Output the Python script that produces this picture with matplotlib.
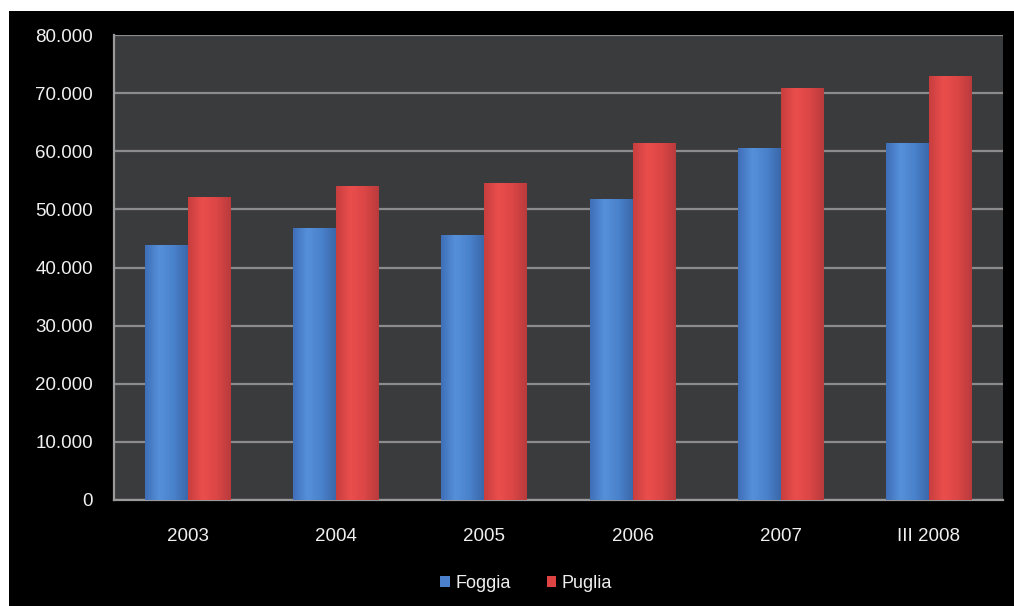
import numpy as np
import matplotlib
matplotlib.use('Agg')
from matplotlib import pyplot as plt
from matplotlib.patches import Rectangle
from matplotlib.colors import LinearSegmentedColormap
from matplotlib.ticker import FuncFormatter

# valori per anno
anni = ['2003', '2004', '2005', '2006', '2007', 'III 2008']
foggia = [43800, 46800, 45600, 51700, 60600, 61500]
puglia = [52200, 54100, 54600, 61400, 70800, 73000]

plt.rcParams['font.family'] = ['Liberation Sans', 'DejaVu Sans']

fig = plt.figure(figsize=(10.14, 6.06), dpi=100, facecolor='white')
# sfondo nero con bordo bianco in alto e a sinistra
fig.patches.append(Rectangle((9/1014, 0), 1 - 9/1014, 1 - 11/606,
                             transform=fig.transFigure, facecolor='black',
                             edgecolor='none', zorder=-1))

ax = fig.add_axes([114/1014, 106/606, 889/1014, 465/606])
ax.set_facecolor('#3a3b3d')

x = np.arange(len(anni))
w = 0.29
b1 = ax.bar(x - w/2, foggia, w, color='#4a80cc', label='Foggia', zorder=3)
b2 = ax.bar(x + w/2, puglia, w, color='#de4444', label='Puglia', zorder=3)

# sfumatura orizzontale sulle barre (effetto cilindro)
def sfuma(bars, colori):
    cmap = LinearSegmentedColormap.from_list('g', colori)
    grad = np.linspace(0, 1, 64).reshape(1, -1)
    for b in bars:
        x0, y0 = b.get_x(), b.get_y()
        im = ax.imshow(grad, cmap=cmap, aspect='auto', zorder=3.5,
                       extent=(x0, x0 + b.get_width(), y0, y0 + b.get_height()))
        im.set_clip_path(b)

sfuma(b1, ['#3f6fb8', '#5690da', '#4a82cc', '#3b68aa'])
sfuma(b2, ['#c83e3e', '#ea4e4c', '#dc4646', '#ba3b3d'])
ax.set_xlim(-0.5, len(anni) - 0.5)
ax.set_ylim(0, 80000)

ax.set_yticks(np.arange(0, 80001, 10000))
ax.yaxis.set_major_formatter(FuncFormatter(lambda v, p: '{:,.0f}'.format(v).replace(',', '.')))
ax.set_xticks(x)
ax.set_xticklabels(anni)
ax.grid(axis='y', color='#8c8c8c', linewidth=1.6, zorder=1)

for s in ['top', 'right']:
    ax.spines[s].set_visible(False)
for s in ['left', 'bottom']:
    ax.spines[s].set_color('#9a9a9a')
    ax.spines[s].set_linewidth(1.6)

ax.tick_params(axis='both', length=0, colors='#f0f0f0', labelsize=13.5)
ax.tick_params(axis='y', pad=15)
ax.tick_params(axis='x', pad=20)

leg = fig.legend(loc='center', bbox_to_anchor=(526/1014, 1 - 583/606), ncol=2,
                 frameon=False, fontsize=13, handlelength=0.55, handleheight=0.55,
                 handletextpad=0.3, columnspacing=2.0)
for t in leg.get_texts():
    t.set_color('#f0f0f0')

fig.savefig('out.png', dpi=100, facecolor=fig.get_facecolor())
